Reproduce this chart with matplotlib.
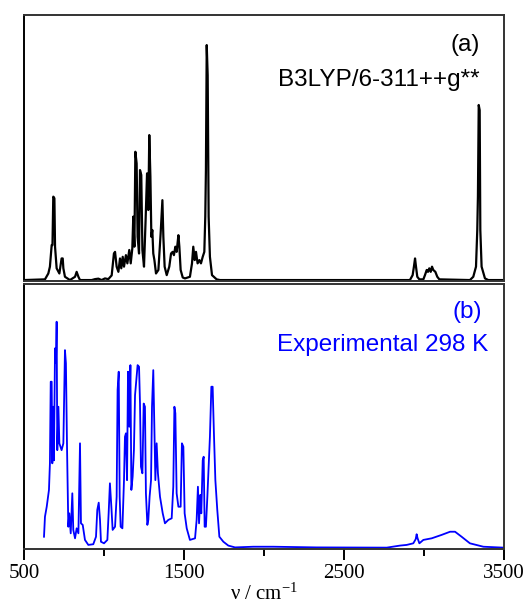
import matplotlib
matplotlib.use("Agg")
import matplotlib.pyplot as plt
from matplotlib.ticker import FixedLocator

# ---- data: computed spectrum (a) ----
calc_wn = [500, 631, 652, 662, 673, 678, 683, 690, 694, 704, 721, 735, 742, 746, 756, 787,
           819, 829, 840, 850, 923, 944, 965, 985, 1006, 1027, 1048, 1062, 1069, 1079, 1090,
           1100, 1108, 1117, 1125, 1137, 1146, 1158, 1167, 1177, 1183, 1190, 1196, 1204, 1210,
           1219, 1225, 1233, 1240, 1250, 1260, 1269, 1277, 1283, 1290, 1296, 1302, 1308, 1315,
           1325, 1340, 1354, 1365, 1371, 1379, 1392, 1408, 1419, 1429, 1437, 1446, 1454, 1465,
           1471, 1479, 1492, 1506, 1537, 1550, 1558, 1567, 1575, 1585, 1596, 1606, 1617, 1627,
           1633, 1637, 1642, 1648, 1654, 1662, 1675, 1704, 1725, 2912, 2929, 2937, 2944, 2950,
           2958, 2971, 2996, 3006, 3017, 3025, 3033, 3042, 3050, 3058, 3071, 3083, 3096, 3287,
           3308, 3325, 3333, 3337, 3342, 3348, 3352, 3360, 3381, 3402, 3500]
calc_int = [0, 0.003, 0.028, 0.057, 0.149, 0.149, 0.355, 0.348, 0.142, 0.05, 0.028, 0.092,
            0.092, 0.05, 0.014, 0, 0.014, 0.035, 0.014, 0, 0, 0.004, 0.006, 0, 0.007, 0.004,
            0.02, 0.113, 0.12, 0.057, 0.035, 0.092, 0.05, 0.099, 0.057, 0.106, 0.071, 0.128,
            0.071, 0.135, 0.27, 0.142, 0.546, 0.496, 0.184, 0.113, 0.468, 0.447, 0.128, 0.057,
            0.255, 0.454, 0.298, 0.617, 0.44, 0.184, 0.213, 0.113, 0.085, 0.028, 0.043, 0.199,
            0.34, 0.184, 0.057, 0.021, 0.057, 0.113, 0.12, 0.106, 0.142, 0.12, 0.191, 0.142,
            0.043, 0.011, 0.007, 0.014, 0.071, 0.142, 0.085, 0.12, 0.071, 0.085, 0.071, 0.099,
            0.12, 0.27, 0.468, 1.0, 0.872, 0.27, 0.099, 0.021, 0.003, 0, 0, 0.021, 0.057, 0.092,
            0.057, 0.014, 0.003, 0.003, 0.021, 0.043, 0.035, 0.05, 0.035, 0.057, 0.043, 0.035,
            0.014, 0.003, 0, 0.014, 0.057, 0.213, 0.355, 0.745, 0.723, 0.213, 0.057, 0.007, 0, 0]

# ---- data: experimental spectrum (b) ----
exp_wn = [625, 631, 642, 656, 662, 667, 673, 677, 683, 687, 694, 700, 704, 708, 715, 721, 735,
          746, 756, 762, 769, 777, 783, 792, 802, 808, 819, 829, 840, 850, 856, 867, 881, 902,
          933, 950, 958, 967, 975, 981, 1000, 1021, 1029, 1037, 1046, 1054, 1069, 1079, 1085,
          1092, 1098, 1104, 1115, 1125, 1131, 1137, 1144, 1150, 1158, 1165, 1171, 1179, 1187,
          1194, 1202, 1210, 1219, 1225, 1231, 1240, 1248, 1256, 1262, 1271, 1277, 1285, 1294,
          1300, 1308, 1315, 1321, 1329, 1337, 1350, 1367, 1381, 1402, 1423, 1433, 1440, 1446,
          1454, 1465, 1479, 1487, 1496, 1504, 1517, 1537, 1569, 1579, 1587, 1594, 1602, 1608,
          1617, 1623, 1629, 1637, 1646, 1662, 1671, 1679, 1687, 1696, 1708, 1721, 1746, 1777,
          1819, 1933, 2058, 2329, 2767, 2850, 2892, 2933, 2948, 2954, 2960, 2971, 2996, 3048,
          3110, 3163, 3194, 3235, 3287, 3371, 3496]
exp_int = [0.054, 0.142, 0.186, 0.26, 0.377, 0.736, 0.736, 0.377, 0.626, 0.39, 0.883, 0.82,
           1.0, 0.435, 0.626, 0.465, 0.435, 0.465, 0.875, 0.817, 0.443, 0.098, 0.157, 0.069,
           0.245, 0.084, 0.047, 0.091, 0.069, 0.465, 0.113, 0.106, 0.04, 0.018, 0.021, 0.054,
           0.172, 0.204, 0.128, 0.032, 0.025, 0.04, 0.157, 0.289, 0.186, 0.084, 0.098, 0.23,
           0.7, 0.78, 0.23, 0.098, 0.091, 0.303, 0.494, 0.509, 0.303, 0.78, 0.538, 0.809, 0.26,
           0.318, 0.435, 0.677, 0.743, 0.809, 0.802, 0.64, 0.362, 0.333, 0.64, 0.626, 0.245,
           0.106, 0.128, 0.23, 0.303, 0.626, 0.787, 0.538, 0.303, 0.465, 0.333, 0.23, 0.157,
           0.113, 0.128, 0.135, 0.274, 0.626, 0.597, 0.245, 0.186, 0.186, 0.465, 0.45, 0.157,
           0.091, 0.04, 0.047, 0.128, 0.274, 0.113, 0.238, 0.157, 0.39, 0.406, 0.098, 0.098,
           0.23, 0.494, 0.714, 0.714, 0.509, 0.303, 0.172, 0.054, 0.032, 0.015, 0.007, 0.01,
           0.01, 0.007, 0.006, 0.015, 0.018, 0.025, 0.043, 0.065, 0.047, 0.025, 0.04, 0.047,
           0.062, 0.076, 0.076, 0.054, 0.025, 0.01, 0.006]

major_ticks = [500, 1500, 2500, 3500]
minor_ticks = [1000, 2000, 3000]
label_a = "(a)"
method_a = "B3LYP/6-311++g**"
label_b = "(b)"
method_b = "Experimental 298 K"

plt.rcParams['mathtext.fontset'] = 'custom'
plt.rcParams['mathtext.rm'] = 'Liberation Serif'
plt.rcParams['mathtext.it'] = 'Liberation Serif:italic'

fig = plt.figure(figsize=(5.24, 6.06), dpi=100)
W, H = 524, 606
def rect(x0, y0, x1, y1):
    return [x0 / W, 1 - y1 / H, (x1 - x0) / W, (y1 - y0) / H]

ax1 = fig.add_axes(rect(24, 15, 504, 281))
ax2 = fig.add_axes(rect(24, 284, 504, 549))

ax1.plot(calc_wn, calc_int, color='black', lw=1.6)
ax1.set_xlim(500, 3500)
ax1.set_ylim(-0.004, 1.128)

ax2.plot(exp_wn, exp_int, color='#0000ff', lw=1.3)
ax2.set_xlim(500, 3500)
ax2.set_ylim(0, 1.166)

for ax in (ax1, ax2):
    ax.set_yticks([])
    for s in ax.spines.values():
        s.set_linewidth(1.4)
        s.set_color('#333333')
    ax.spines['left'].set_color('black')

ax1.set_xticks([])

ax2.xaxis.set_major_locator(FixedLocator(major_ticks))
ax2.xaxis.set_minor_locator(FixedLocator(minor_ticks))
ax2.tick_params(axis='x', which='major', direction='out', length=8, width=1.4, pad=3,
                labelsize=15, top=False)
ax2.tick_params(axis='x', which='minor', direction='out', length=5, width=1.4, top=False)
for lab in ax2.get_xticklabels():
    lab.set_fontfamily('Liberation Serif')
ax2.set_xlabel(r"ν / cm$^{-1}$", fontsize=15, fontfamily='Liberation Serif', labelpad=0)

ax1.text(0.95, 0.887, label_a, transform=ax1.transAxes, ha='right', va='center',
         fontsize=17.5, fontfamily='Liberation Sans', color='black')
ax1.text(0.95, 0.756, method_a, transform=ax1.transAxes, ha='right', va='center',
         fontsize=17.5, fontfamily='Liberation Sans', color='black')
ax2.text(0.9535, 0.894, label_b, transform=ax2.transAxes, ha='right', va='center',
         fontsize=17.5, fontfamily='Liberation Sans', color='#0000ff')
ax2.text(0.967, 0.77, method_b, transform=ax2.transAxes, ha='right', va='center',
         fontsize=17.5, fontfamily='Liberation Sans', color='#0000ff')

fig.savefig("out.png", dpi=100)
